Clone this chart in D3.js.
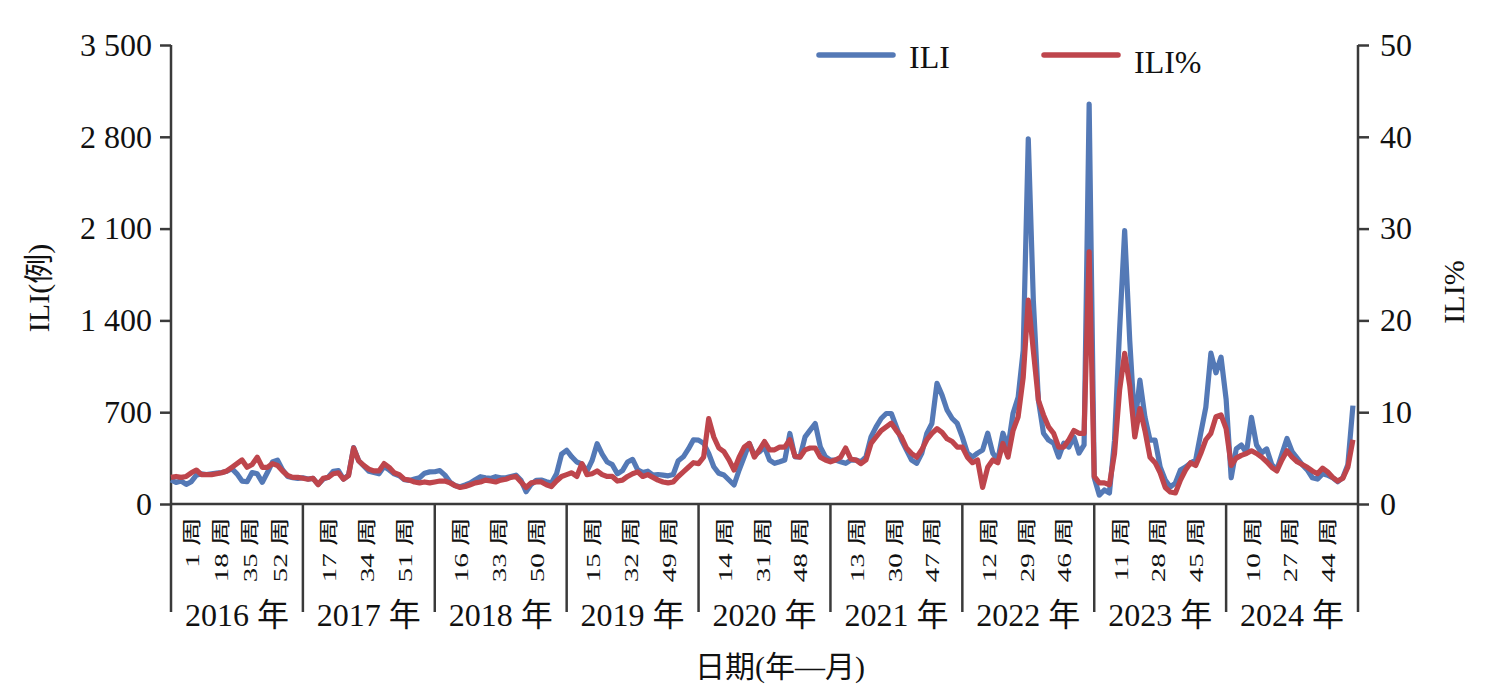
<!DOCTYPE html>
<html>
<head>
<meta charset="utf-8">
<script src="https://cdn.jsdelivr.net/npm/d3@7"></script>
<style>
  body { margin: 0; background: #fff; }
  svg text { font-family: "Liberation Serif", "Times New Roman", "Noto Sans CJK SC", serif; fill: #111; }
</style>
</head>
<body>
<div id="chart"></div>
<script>
// years and the week ticks shown under each year
var years = [2016, 2017, 2018, 2019, 2020, 2021, 2022, 2023, 2024];
var weekTicks = [[1, 18, 35, 52], [17, 34, 51], [16, 33, 50], [15, 32, 49], [14, 31, 48],
                 [13, 30, 47], [12, 29, 46], [11, 28, 45], [10, 27, 44]];
var leftTicks = [0, 700, 1400, 2100, 2800, 3500];
var rightTicks = [0, 10, 20, 30, 40, 50];

// ILI cases, every second week (week 1, 3, ... 51) of each year
var ili2016 = [183,165,175,150,170,220,230,225,230,235,240,250,270,230,175,170,240,230,165,240,320,335,260,210,200,195];
var ili2017 = [200,190,195,150,190,205,250,255,190,220,430,330,290,250,240,230,285,260,230,215,185,180,190,200,235,245];
var ili2018 = [246,255,220,167,140,132,145,160,185,208,200,195,208,200,200,210,220,180,94,150,180,183,170,160,230,380];
var ili2019 = [410,360,320,305,250,330,460,380,320,300,230,255,320,340,260,240,250,220,225,220,215,225,330,360,420,490];
var ili2020 = [487,462,386,284,234,221,183,145,259,360,462,373,398,436,335,310,322,335,538,360,360,512,563,614,436,360];
var ili2021 = [335,335,322,310,335,335,322,360,512,588,652,690,690,588,487,411,335,310,386,538,614,920,830,715,652,614];
var ili2022 = [510,388,358,388,411,540,388,335,540,434,692,814,1172,2785,1550,790,540,487,464,358,464,434,510,388,450,3050];
var ili2023 = [200,68,107,84,487,1324,2085,1248,601,944,662,487,487,282,183,130,160,259,282,312,335,540,738,1150,1000,1120];
var ili2024 = [800,200,420,450,390,660,450,390,420,300,260,380,500,400,350,300,260,200,190,230,220,200,170,200,300,750];

// ILI% for the same weeks
var pct2016 = [2.9,3.0,2.9,3.0,3.4,3.7,3.2,3.2,3.2,3.3,3.4,3.6,4.0,4.4,4.8,4.0,4.3,5.1,4.0,4.0,4.4,4.2,3.6,3.1,2.9,2.9];
var pct2017 = [2.8,2.7,2.8,2.1,2.8,2.9,3.3,3.4,2.7,3.1,6.1,4.7,4.2,3.8,3.6,3.6,4.4,4.0,3.4,3.2,2.7,2.6,2.4,2.3,2.4,2.3];
var pct2018 = [2.4,2.5,2.5,2.3,2.0,1.8,1.9,2.1,2.3,2.4,2.6,2.5,2.4,2.6,2.7,2.9,3.0,2.4,1.8,2.3,2.4,2.4,2.1,1.9,2.5,3.0];
var pct2019 = [3.2,3.4,3.0,4.4,3.2,3.3,3.6,3.2,3.0,3.0,2.5,2.6,3.0,3.3,3.5,3.0,3.2,2.9,2.6,2.4,2.3,2.4,3.0,3.5,4.0,4.5];
var pct2020 = [4.4,5.1,9.3,7.3,6.1,5.7,4.8,3.7,5.1,6.2,6.6,5.1,5.9,6.8,5.9,5.9,6.2,6.2,7.0,5.2,5.1,5.9,6.1,6.1,5.1,4.8];
var pct2021 = [4.6,4.8,5.1,6.1,4.9,4.8,4.4,4.8,6.6,7.3,8.0,8.4,8.8,8.0,7.3,6.1,5.5,5.1,5.9,7.0,7.7,8.2,7.8,7.1,6.8,6.2];
var pct2022 = [6.2,5.1,4.5,4.8,1.8,4.0,4.8,4.5,6.6,5.1,8.0,9.5,13.8,22.2,16.7,11.3,9.7,8.4,7.7,6.2,6.2,7.0,8.0,7.7,7.7,27.5];
var pct2023 = [3.0,2.3,2.3,2.1,5.5,12.4,16.4,12.9,7.3,10.4,8.0,5.1,4.5,3.4,1.8,1.3,1.2,2.6,3.7,4.5,4.2,5.5,7.0,7.7,9.5,9.7];
var pct2024 = [8.2,4.2,5.0,5.3,5.5,5.8,5.5,5.1,4.6,4.0,3.6,4.8,5.8,5.1,4.6,4.3,4.0,3.6,3.3,3.9,3.5,2.9,2.5,2.8,4.0,7.0];

var iliByYear = [ili2016, ili2017, ili2018, ili2019, ili2020, ili2021, ili2022, ili2023, ili2024];
var pctByYear = [pct2016, pct2017, pct2018, pct2019, pct2020, pct2021, pct2022, pct2023, pct2024];

var blue = '#5479b6', red = '#be454c', axisColor = '#3a3a3a';

function toSeries(byYear)
{
    var out = [];
    byYear.forEach(function(vals, yi) {
        vals.forEach(function(v, k) { out.push({ i: yi * 52 + 2 * k, v: v }); });
    });
    return out;
}

function init()
{
    var width = 1503, height = 694;
    var left = 171, right = 1358, top = 45, base = 504, catBottom = 612;

    var svg = d3.select('#chart').append('svg')
        .attr('width', width).attr('height', height);

    var x = d3.scaleLinear().domain([0, years.length * 52]).range([left, right]);
    var yearBand = d3.scaleBand().domain(years).range([left, right]).padding(0);
    var yL = d3.scaleLinear().domain([0, 3500]).range([base, top]);
    var yR = d3.scaleLinear().domain([0, 50]).range([base, top]);

    var fmt = d3.formatLocale({ decimal: '.', thousands: ' ', grouping: [3], currency: ['', ''] }).format(',');

    // left axis
    var gL = svg.append('g').attr('transform', 'translate(' + left + ',0)')
        .call(d3.axisLeft(yL).tickValues(leftTicks).tickFormat(fmt).tickSize(11).tickPadding(8));
    gL.select('.domain').remove();
    gL.selectAll('line').attr('stroke', axisColor).attr('stroke-width', 2.5);
    gL.selectAll('text').attr('font-size', 32).attr('fill', '#111')
        .attr('font-family', '"Liberation Serif", serif');

    // right axis
    var gR = svg.append('g').attr('transform', 'translate(' + right + ',0)')
        .call(d3.axisRight(yR).tickValues(rightTicks).tickSize(11).tickPadding(11));
    gR.select('.domain').remove();
    gR.selectAll('line').attr('stroke', axisColor).attr('stroke-width', 2.5);
    gR.selectAll('text').attr('font-size', 32).attr('fill', '#111')
        .attr('font-family', '"Liberation Serif", serif');

    // axis lines, baseline and year separators
    var frame = svg.append('g').attr('stroke', axisColor).attr('stroke-width', 2.5);
    frame.append('line').attr('x1', left).attr('x2', left).attr('y1', yL(3500)).attr('y2', catBottom);
    frame.append('line').attr('x1', right).attr('x2', right).attr('y1', yR(50)).attr('y2', catBottom);
    frame.append('line').attr('x1', left).attr('x2', right).attr('y1', base).attr('y2', base);
    frame.selectAll('.sep').data(years.slice(1)).enter().append('line')
        .attr('x1', function(d) { return yearBand(d); })
        .attr('x2', function(d) { return yearBand(d); })
        .attr('y1', base).attr('y2', catBottom);

    // week labels (rotated) and year labels
    var bw = yearBand.bandwidth();
    years.forEach(function(yr, yi) {
        var n = weekTicks[yi].length;
        weekTicks[yi].forEach(function(wk, j) {
            var px = yearBand(yr) + bw * (j + 0.7) / (n + 0.5);
            svg.append('text')
                .attr('transform', 'translate(' + px + ',517) scale(0.68,1) rotate(-90)')
                .attr('text-anchor', 'end')
                .attr('dy', '0.36em')
                .attr('font-size', 29)
                .text(wk + ' 周');
        });
        svg.append('text')
            .attr('x', yearBand(yr) + bw / 2)
            .attr('y', 626)
            .attr('text-anchor', 'middle')
            .attr('font-size', 32)
            .text(yr + ' 年');
    });

    // series
    var iliData = toSeries(iliByYear);
    var pctData = toSeries(pctByYear);

    var lineL = d3.line().x(function(d) { return x(d.i); }).y(function(d) { return yL(d.v); });
    var lineR = d3.line().x(function(d) { return x(d.i); }).y(function(d) { return yR(d.v); });

    svg.append('path').datum(iliData)
        .attr('d', lineL).attr('fill', 'none').attr('stroke', blue)
        .attr('stroke-width', 5.2).attr('stroke-linejoin', 'round');
    svg.append('path').datum(pctData)
        .attr('d', lineR).attr('fill', 'none').attr('stroke', red)
        .attr('stroke-width', 5.2).attr('stroke-linejoin', 'round');

    // axis titles
    svg.append('text').attr('transform', 'translate(38,288) rotate(-90)')
        .attr('text-anchor', 'middle').attr('dy', '0.35em').attr('font-size', 30)
        .text('ILI(例)');
    svg.append('text').attr('transform', 'translate(1453,292) rotate(-90)')
        .attr('text-anchor', 'middle').attr('dy', '0.35em').attr('font-size', 30)
        .text('ILI%');
    svg.append('text').attr('x', 780).attr('y', 677)
        .attr('text-anchor', 'middle').attr('font-size', 30)
        .text('日期(年—月)');

    // legend
    var legend = [{ name: 'ILI', color: blue, x: 819, dy: 0 }, { name: 'ILI%', color: red, x: 1044, dy: 5 }];
    var lg = svg.selectAll('.legend').data(legend).enter().append('g');
    lg.append('line')
        .attr('x1', function(d) { return d.x; }).attr('x2', function(d) { return d.x + 74; })
        .attr('y1', 55).attr('y2', 55)
        .attr('stroke', function(d) { return d.color; }).attr('stroke-width', 5.5)
        .attr('stroke-linecap', 'round');
    lg.append('text')
        .attr('x', function(d) { return d.x + 90; })
        .attr('y', function(d) { return 68 + d.dy; })
        .attr('font-size', 32)
        .text(function(d) { return d.name; });
}
window.addEventListener('load', init, false);
</script>
</body>
</html>
